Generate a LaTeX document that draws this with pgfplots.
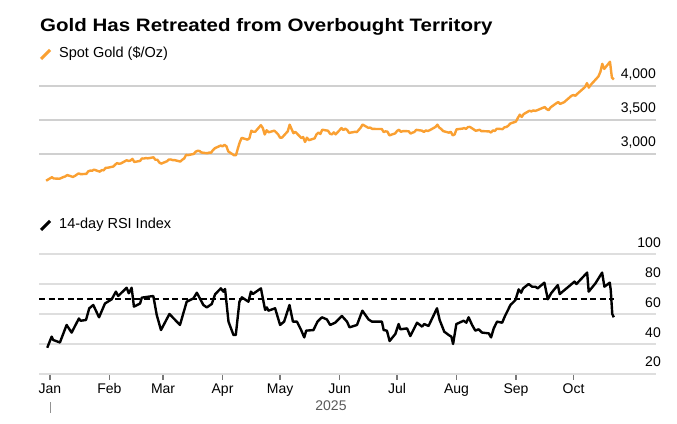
\documentclass[border=0pt]{standalone}
\usepackage{fontspec}
\setmainfont{Liberation Sans}
\usepackage{graphicx}
\usepackage{pgfplots}
\usepackage{pgfplotstable}
\pgfplotsset{compat=1.18}

\definecolor{goldline}{HTML}{FAA032}
\definecolor{gridtop}{HTML}{D0D0D0}
\definecolor{gridbot}{HTML}{DEDEDE}
\definecolor{tickc}{HTML}{777777}
\definecolor{yearc}{HTML}{5A5A5A}

% spot gold, x = day of 2025 (0 = Jan 1)
\pgfplotstableread{
day price
-2 2607
-1 2624
1 2658
2 2640
5 2636
6 2648
7 2661
8 2670
9 2690
12 2663
13 2677
14 2697
15 2715
16 2703
19 2708
20 2745
21 2755
22 2754
23 2770
26 2740
27 2763
28 2760
29 2795
30 2798
33 2815
34 2843
35 2866
36 2856
37 2861
40 2908
41 2898
42 2904
43 2928
44 2883
47 2898
48 2935
49 2933
50 2940
51 2936
54 2951
55 2915
56 2916
57 2876
58 2858
61 2893
62 2918
63 2920
64 2910
65 2910
68 2889
69 2916
70 2934
71 2988
72 2984
75 3001
76 3034
77 3047
78 3044
79 3022
82 3011
83 3020
84 3019
85 3057
86 3085
89 3124
90 3113
91 3134
92 3114
93 3037
96 2982
97 2982
98 3083
99 3175
100 3237
103 3211
104 3230
105 3342
106 3327
107 3327
110 3424
111 3381
112 3287
113 3349
114 3319
117 3343
118 3317
119 3288
120 3239
121 3241
124 3334
125 3431
126 3365
127 3306
128 3325
131 3236
132 3249
133 3177
134 3240
135 3203
138 3230
139 3289
140 3314
141 3295
142 3357
145 3342
146 3300
147 3288
148 3318
149 3289
152 3381
153 3353
154 3372
155 3352
156 3310
159 3326
160 3322
161 3354
162 3386
163 3433
166 3385
167 3388
168 3370
169 3369
170 3368
173 3368
174 3323
175 3333
176 3328
177 3274
180 3303
181 3339
182 3357
183 3326
184 3336
187 3335
188 3301
189 3313
190 3324
191 3355
194 3343
195 3324
196 3347
197 3338
198 3350
201 3397
202 3431
203 3388
204 3368
205 3337
208 3314
209 3326
210 3274
211 3289
212 3363
215 3373
216 3381
217 3369
218 3397
219 3398
222 3342
223 3348
224 3356
225 3335
226 3336
229 3332
230 3316
231 3347
232 3339
233 3372
236 3366
237 3393
238 3397
239 3416
240 3448
243 3477
244 3533
245 3578
246 3545
247 3587
250 3636
251 3626
252 3641
253 3634
254 3643
257 3679
258 3690
259 3660
260 3644
261 3685
264 3746
265 3763
266 3736
267 3749
268 3760
271 3833
272 3858
273 3866
274 3857
275 3886
278 3960
279 3985
280 4042
281 3976
282 4018
285 4110
286 4142
287 4208
288 4326
289 4251
292 4356
293 4125
294 4095
}\goldtable

% 14-day RSI
\pgfplotstableread{
day rsi
-1.4 37.5
0.9 44.9
1.7 42.7
5.2 41.0
8.7 52.7
11.3 47.6
15.1 57.0
16.0 55.5
18.8 56.0
20.5 63.8
22.6 66.0
25.6 57.8
28.7 67.0
32.2 69.8
34.4 74.9
35.6 72.0
40.0 77.5
41.1 73.8
42.6 77.5
43.8 64.9
47.0 67.0
47.9 70.9
53.9 72.0
55.7 59.3
57.9 49.3
62.3 60.0
67.8 52.7
71.3 68.2
74.8 70.4
76.6 74.2
80.0 66.0
81.8 64.4
84.4 66.7
86.1 73.1
89.1 77.1
90.4 74.9
91.3 76.7
93.1 54.9
95.7 46.0
96.9 46.0
98.8 68.2
100.1 71.1
103.5 68.2
104.8 74.9
105.8 73.3
110.0 77.1
112.2 62.7
113.1 64.4
113.9 62.2
117.4 63.8
120.0 52.7
122.1 54.9
124.9 66.0
126.7 54.9
128.8 54.9
130.8 49.8
132.6 44.4
133.6 48.9
137.4 49.3
139.5 54.9
141.8 57.8
144.4 56.4
146.1 52.7
148.7 54.2
152.2 58.7
154.9 54.9
156.2 51.1
160.1 52.7
162.9 62.2
166.1 56.4
167.9 54.9
173.1 54.9
174.0 49.3
175.7 48.9
177.1 42.0
180.1 46.7
181.8 53.3
182.7 49.8
186.2 50.4
187.9 45.3
191.4 54.2
194.0 51.6
195.2 53.3
197.4 52.0
201.8 63.8
203.2 56.0
205.6 48.2
207.9 46.0
209.3 44.9
210.2 40.0
211.9 53.3
215.7 55.5
217.1 54.2
218.3 57.8
220.1 52.7
221.8 48.9
223.5 49.8
225.3 47.6
228.8 47.1
230.0 44.4
231.4 50.4
233.1 54.9
235.8 54.2
237.1 58.2
240.1 66.0
242.7 69.3
244.4 76.4
245.7 74.2
246.7 77.1
249.6 80.0
251.4 78.2
253.1 78.2
254.3 77.1
257.8 80.9
259.6 69.8
261.3 73.8
264.8 79.3
265.8 73.3
271.4 79.3
273.5 81.6
274.5 80.0
280.1 87.6
280.9 74.9
284.4 80.4
287.9 87.6
289.1 78.2
291.9 80.9
292.4 76.0
293.2 60.0
294.0 57.8
}\rsitable

\begin{document}
\begin{tikzpicture}[x=1pt,y=1pt]
\fill[white] (0,0) rectangle (677,423);

% title and series keys
\node[anchor=base west, inner sep=0pt] at (40,391)
  {\scalebox{1.14}[1]{\fontsize{18}{20}\selectfont\bfseries Gold Has Retreated from Overbought Territory}};
\draw[goldline, line width=3pt] (41,364) -- (50,373);
\node[anchor=base west, inner sep=0pt, font=\fontsize{14.5}{16}\selectfont] at (59,365) {Spot Gold (\$/Oz)};
\draw[black, line width=3pt] (41,193) -- (50,202);
\node[anchor=base west, inner sep=0pt, font=\fontsize{14.5}{16}\selectfont] at (59,194) {14-day RSI Index};

% upper panel: price
\begin{axis}[
  at={(39pt,238.4pt)}, anchor=south west,
  width=617pt, height=125.8pt, scale only axis,
  xmin=-5.7, xmax=316, ymin=2550, ymax=4400,
  axis line style={draw=none},
  xtick=\empty, ytick={3000,3500,4000},
  ymajorgrids, grid style={gridtop, line width=1.1pt},
  major tick length=0pt, ytick style={draw=none},
  yticklabel pos=right,
  yticklabel style={anchor=base east, inner sep=0pt, yshift=7.5pt,
    font=\fontsize{14}{14}\selectfont},
  scaled y ticks=false,
  /pgf/number format/1000 sep={,},
  /pgf/number format/assume math mode=true,
]
\addplot[goldline, line width=2.4pt, line join=round] table[x=day, y=price] {\goldtable};
\end{axis}

% lower panel: RSI
\begin{axis}[
  at={(39pt,49pt)}, anchor=south west,
  width=617pt, height=120pt, scale only axis,
  xmin=-5.7, xmax=316, ymin=20, ymax=100,
  axis line style={draw=none},
  ytick={20,40,60,80,100},
  xtick={0,31,59,90,120,151,181,212,243,273},
  xticklabels={Jan,Feb,Mar,Apr,May,Jun,Jul,Aug,Sep,Oct},
  ymajorgrids, grid style={gridbot, line width=1.8pt},
  ytick style={draw=none},
  xtick style={draw=none},
  tick align=outside, xtick pos=bottom, major tick length=5pt,
  yticklabel pos=right,
  yticklabel style={anchor=base east, inner sep=0pt, yshift=7pt,
    font=\fontsize{14}{14}\selectfont},
  xticklabel style={anchor=base, inner sep=0pt, yshift=-15pt,
    font=\fontsize{14}{14}\selectfont},
  /pgf/number format/assume math mode=true,
  clip=false,
]
\addplot[black, line width=1.8pt, dash pattern=on 6pt off 3.5pt] coordinates {(-5.7,70) (294,70)};
\addplot[black, line width=2.4pt, line join=round] table[x=day, y=rsi] {\rsitable};
% month tick marks below the baseline (1 unit = 1.5pt)
\pgfplotsinvokeforeach{0,31,59,90,120,151,181,212,243,273}{
  \draw[tickc, line width=1.4pt] (axis cs:#1,19.4) -- (axis cs:#1,16.1);
}
\end{axis}

% year label under the month axis
\draw[tickc!80, line width=1.4pt] (50.7,10.3) -- (50.7,21);
\node[anchor=base, inner sep=0pt, text=yearc, font=\fontsize{14}{14}\selectfont] at (331,12.3) {2025};
\end{tikzpicture}
\end{document}
